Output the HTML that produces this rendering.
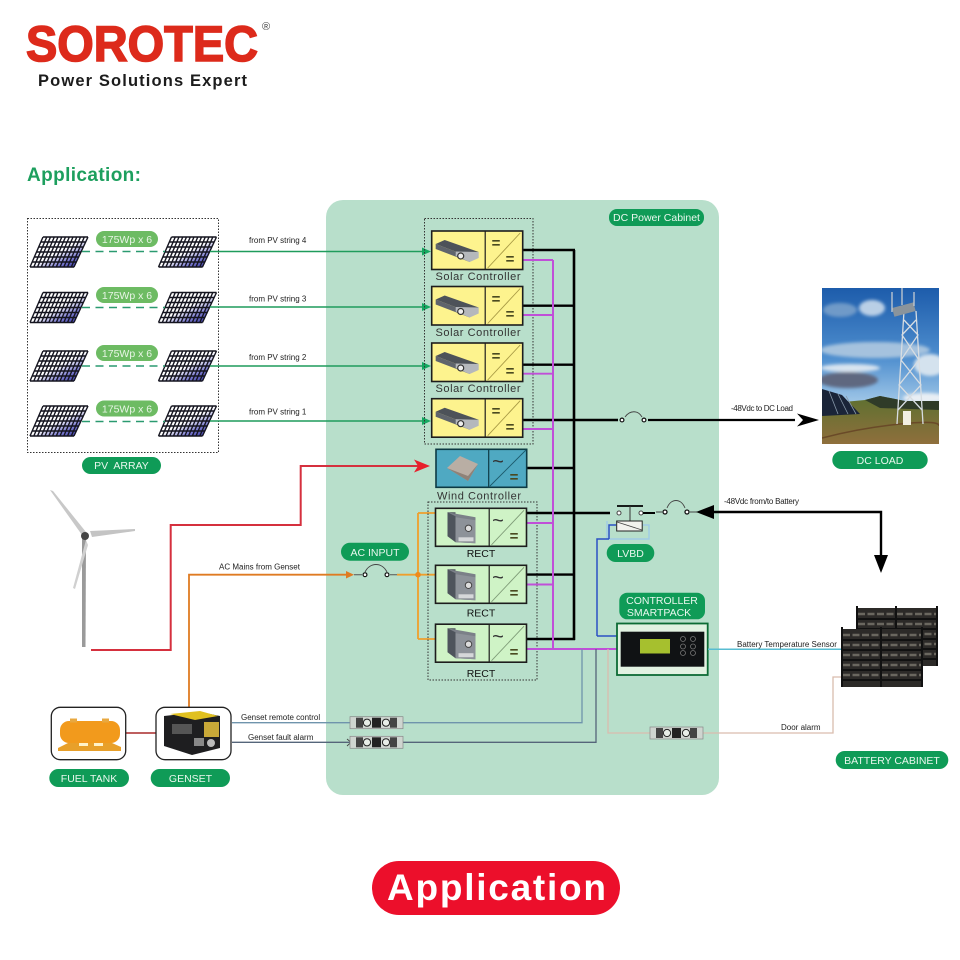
<!DOCTYPE html>
<html>
<head>
<meta charset="utf-8">
<title>Application</title>
<style>
html,body{margin:0;padding:0;background:#fff}
svg{display:block}
text{font-family:"Liberation Sans",sans-serif}
.lb{font-size:8px;fill:#222}
.p{font-size:10.5px;fill:#e9f7ee;text-anchor:middle}
.w{font-size:10.5px;fill:#e8f5e6;text-anchor:middle}
.t{font-size:11px;fill:#333;text-anchor:middle}
.eq{font-size:15px;font-weight:bold;fill:#4a4a20;text-anchor:middle}
.ti{font-size:20px;fill:#333;text-anchor:middle}
</style>
</head>
<body>
<svg width="960" height="960" viewBox="0 0 960 960" xmlns="http://www.w3.org/2000/svg">
<defs>
<linearGradient id="pg" x1="0" y1="0" x2="1" y2="1"><stop offset=".5" stop-color="#fff"/><stop offset=".72" stop-color="#7a7ad0"/><stop offset="1" stop-color="#14148a"/></linearGradient>
<linearGradient id="sky" x1="0" y1="0" x2="0" y2="1"><stop offset="0" stop-color="#1d5cab"/><stop offset=".45" stop-color="#4f8fcf"/><stop offset=".72" stop-color="#9cc4e6"/></linearGradient>
<linearGradient id="gnd" x1="0" y1="0" x2="0" y2="1"><stop offset="0" stop-color="#5d7030"/><stop offset="1" stop-color="#8f6f3c"/></linearGradient>
<filter id="b1"><feGaussianBlur stdDeviation="1.6"/></filter>
<filter id="b0"><feGaussianBlur stdDeviation=".35"/></filter>
<clipPath id="ci"><rect x="822" y="288" width="117" height="156"/></clipPath>

<g id="panel">
<polygon points="13,0 58,0 44,30 0,30" fill="url(#pg)"/>
<path d="M13 0h45M10.8 5h45M8.7 10h45M6.5 15h45M4.3 20h45M2.2 25h44M0 30h44M13 0L0 30M16.8 0L3.8 30M20.5 0L7.5 30M24.3 0L11.3 30M28 0L15 30M31.8 0L18.8 30M35.5 0L22.5 30M39.3 0L26.3 30M43 0L30 30M46.8 0L33.8 30M50.5 0L37.5 30M54.3 0L41.3 30M58 0L44 30" fill="none" stroke="#14141f" stroke-width="1.4"/>
</g>

<g id="solar">
<rect x="0" y="0" width="91" height="38.5" fill="#fdf38e" stroke="#1d1d1d" stroke-width="1.6"/>
<line x1="53.5" y1="0" x2="53.5" y2="38.5" stroke="#1d1d1d" stroke-width="1.2"/>
<line x1="56" y1="37" x2="88.5" y2="2" stroke="#a89a45" stroke-width=".9"/>
<polygon points="4,13 13,9 47,21 38,26" fill="#4d5259"/>
<polygon points="4,13 38,26 38,31 4,18" fill="#5f646c"/>
<polygon points="24,20.5 47,21 47,27 38,31 24,25" fill="#b5b8bc"/>
<circle cx="29" cy="25" r="3" fill="#eee" stroke="#333" stroke-width="1.2"/>
</g>

<g id="rect">
<rect x="0" y="0" width="91" height="38" fill="#cff3c6" stroke="#1d1d1d" stroke-width="1.6"/>
<line x1="53.7" y1="0" x2="53.7" y2="38" stroke="#1d1d1d" stroke-width="1.2"/>
<line x1="56" y1="36.5" x2="88.5" y2="2" stroke="#7f9c78" stroke-width=".9"/>
<polygon points="12,4 20,4 20,34 12,28" fill="#4e545c"/>
<polygon points="12,4 40,9 40,35 20,34 20,8" fill="#7b8088"/>
<polygon points="20,9 40,12 40,35 20,34" fill="#8d9299"/>
<rect x="23" y="29" width="15" height="4" fill="#d6d8da"/>
<circle cx="33" cy="20" r="3.2" fill="#ddd" stroke="#444"/>
</g>

<g id="conn">
<rect x="0" y="0" width="53" height="12" fill="#cfd5d0" stroke="#888" stroke-width=".7"/>
<rect x="6" y="1" width="7" height="10" fill="#444"/><rect x="40" y="1" width="7" height="10" fill="#444"/>
<rect x="22" y="1" width="9" height="10" fill="#222"/>
<circle cx="17" cy="6" r="3.6" fill="#e8eee8" stroke="#222" stroke-width="1"/>
<circle cx="36" cy="6" r="3.6" fill="#e8eee8" stroke="#222" stroke-width="1"/>
</g>

<g id="rack">
<rect x="0" y="2" width="82" height="58" fill="#2c2a28"/>
<path d="M2 8h78M2 18h78M2 28h78M2 38h78M2 48h78" stroke="#6a675f" stroke-width="2.4" stroke-dasharray="7 2.5" fill="none"/>
<path d="M2 13h78M2 23h78M2 33h78M2 43h78M2 53h78" stroke="#111" stroke-width="2" fill="none"/>
<path d="M1 0V60M40 0V60M81 0V60" stroke="#111" stroke-width="2" fill="none"/>
</g>
</defs>

<rect width="960" height="960" fill="#fff"/>

<!-- Logo -->
<text x="26" y="61" font-size="50" font-weight="bold" fill="#dd2a1b" stroke="#dd2a1b" stroke-width="1.6" textLength="232" lengthAdjust="spacingAndGlyphs">SOROTEC</text>
<text x="262" y="30" font-size="11" fill="#444">®</text>
<text x="38" y="86" font-size="16.5" font-weight="bold" fill="#1c1c1c" textLength="209" lengthAdjust="spacing">Power Solutions Expert</text>
<text x="27" y="181" font-size="19" font-weight="bold" fill="#1d9f5e" textLength="114" lengthAdjust="spacing">Application:</text>

<!-- Cabinet -->
<rect x="326" y="200" width="393" height="595" rx="17" fill="#b8dfcb"/>
<rect x="609" y="209" width="95" height="17" rx="8" fill="#0f9b57"/>
<text x="656.5" y="221" class="p" font-size="10">DC Power Cabinet</text>

<!-- PV array -->
<rect x="27.5" y="218.5" width="191" height="234" fill="none" stroke="#333" stroke-width="1" stroke-dasharray="1.5 1.5"/>
<use href="#panel" x="30" y="237"/><use href="#panel" x="158.5" y="237"/>
<use href="#panel" x="30" y="292.5"/><use href="#panel" x="158.5" y="292.5"/>
<use href="#panel" x="30" y="351"/><use href="#panel" x="158.5" y="351"/>
<use href="#panel" x="30" y="406"/><use href="#panel" x="158.5" y="406"/>
<g stroke="#2a9a70" stroke-width="1.6" stroke-dasharray="8 5.5" fill="none">
<path d="M82 251.5H165M82 307.5H165M82 366H165M82 421.5H165"/>
</g>
<g stroke="#1f9c5c" stroke-width="1.6" fill="none">
<path d="M210 251.5H426M210 307H426M210 366H426M210 421H426"/>
</g>
<g fill="#14a860">
<polygon points="431,251.5 422,247.5 422,255.5"/>
<polygon points="431,307 422,303 422,311"/>
<polygon points="431,366 422,362 422,370"/>
<polygon points="431,421 422,417 422,425"/>
</g>
<g fill="#6dbb63">
<rect x="96" y="231" width="62" height="16" rx="8"/>
<rect x="96" y="287" width="62" height="16" rx="8"/>
<rect x="96" y="345" width="62" height="16" rx="8"/>
<rect x="96" y="400.5" width="62" height="16" rx="8"/>
</g>
<text x="127" y="243" class="w">175Wp x 6</text>
<text x="127" y="299" class="w">175Wp x 6</text>
<text x="127" y="357" class="w">175Wp x 6</text>
<text x="127" y="412.5" class="w">175Wp x 6</text>
<text x="249" y="243" class="lb">from PV string 4</text>
<text x="249" y="301.5" class="lb">from PV string 3</text>
<text x="249" y="360" class="lb">from PV string 2</text>
<text x="249" y="414.5" class="lb">from PV string 1</text>
<rect x="82" y="457" width="79" height="17" rx="8.5" fill="#0f9b57"/>
<text x="121.5" y="469" class="p">PV&#160; ARRAY</text>

<!-- Wind turbine -->
<g filter="url(#b0)">
<polygon points="82,538 86,538 85.5,647 82,647" fill="#9a9a9a"/>
<polygon points="50,490 53,491 86,532 82,535" fill="#c8c8c8"/>
<polygon points="90,531 135,529 135,531 92,537" fill="#c4c4c4"/>
<polygon points="86,540 88,545 75,589 73,588" fill="#d0d0d0"/>
<circle cx="85" cy="536" r="4" fill="#444"/>
</g>
<path d="M91 650H170.7V525H300.7V466H422" fill="none" stroke="#d5303e" stroke-width="2"/>
<polygon points="430,466 414,459.5 418,466 414,472.5" fill="#e8202c"/>

<!-- AC path -->
<path d="M189 707V574.7H348" fill="none" stroke="#df7b22" stroke-width="1.8"/>
<polygon points="354,574.7 346,571 346,578.5" fill="#df7b22"/>
<rect x="341" y="542.7" width="68" height="18" rx="9" fill="#0f9b57"/>
<text x="375" y="556" class="p" font-size="11">AC INPUT</text>
<text x="219" y="569.5" class="lb">AC Mains from Genset</text>
<path d="M354 574.7H362M390 574.7H397" stroke="#555" stroke-width="1" fill="none"/>
<path d="M397 574.7H435M418 513V639M418 513H435M418 639H435" fill="none" stroke="#ef9f2c" stroke-width="1.8"/>
<circle cx="418" cy="574.7" r="2.8" fill="#ef8a1c"/>
<path d="M365 572C370 562 382 562 387 572" fill="none" stroke="#444" stroke-width=".9"/>
<circle cx="365" cy="574.7" r="1.9" fill="#fff" stroke="#111" stroke-width="1.2"/>
<circle cx="387" cy="574.7" r="1.9" fill="#fff" stroke="#111" stroke-width="1.2"/>

<!-- Dotted groups -->
<rect x="424.5" y="218.5" width="108.5" height="225.5" fill="none" stroke="#333" stroke-width="1" stroke-dasharray="1.5 1.5"/>
<rect x="428" y="502" width="109" height="178" fill="none" stroke="#333" stroke-width="1" stroke-dasharray="1.5 1.5"/>

<!-- Black bus -->
<path d="M574 250V640" fill="none" stroke="#000" stroke-width="2.6"/>
<path d="M522 250H575M522 305.7H575M522 364.7H575M522 420H618M526 468H575M526 513H610M526 574.6H575M526 639H575" fill="none" stroke="#000" stroke-width="2.4"/>
<path d="M648 420H795" fill="none" stroke="#000" stroke-width="2.2"/>
<polygon points="819,420 797,413.5 803,420 797,426.5" fill="#000"/>

<!-- Magenta bus -->
<path d="M553 260V649" fill="none" stroke="#c04fd8" stroke-width="2"/>
<path d="M522 260H553M522 315H553M522 373.7H553M522 429H553M526 523H553M526 584.5H553M526 649H617" fill="none" stroke="#c04fd8" stroke-width="1.9"/>

<!-- Solar controllers -->
<use href="#solar" x="431.7" y="231"/>
<use href="#solar" x="431.7" y="286.5"/>
<use href="#solar" x="431.7" y="343"/>
<use href="#solar" x="431.7" y="398.7"/>
<text x="496" y="248" class="eq">=</text><text x="510" y="264" class="eq">=</text>
<text x="496" y="304" class="eq">=</text><text x="510" y="319" class="eq">=</text>
<text x="496" y="361" class="eq">=</text><text x="510" y="376" class="eq">=</text>
<text x="496" y="416" class="eq">=</text><text x="510" y="432" class="eq">=</text>
<text x="478" y="280" class="t" textLength="85" lengthAdjust="spacing">Solar Controller</text>
<text x="478" y="336" class="t" textLength="85" lengthAdjust="spacing">Solar Controller</text>
<text x="478" y="392" class="t" textLength="85" lengthAdjust="spacing">Solar Controller</text>

<!-- Wind controller -->
<rect x="436" y="449.3" width="90.7" height="38" fill="#4fa9c2" stroke="#0d3a44" stroke-width="1.6"/>
<line x1="488.7" y1="449.3" x2="488.7" y2="487.3" stroke="#0d3a44" stroke-width="1.2"/>
<line x1="490" y1="486" x2="526" y2="450" stroke="#1c5a6c" stroke-width=".9"/>
<polygon points="447,468 460,456 478,464 468,481" fill="#b9aea4"/>
<polygon points="447,468 468,476 478,464 468,481" fill="#8f8278"/>
<text x="498" y="468" class="ti">~</text>
<text x="514" y="482" class="eq">=</text>
<text x="479" y="499.5" class="t" textLength="84" lengthAdjust="spacing">Wind Controller</text>

<!-- Rects -->
<use href="#rect" x="435.5" y="508.3"/>
<use href="#rect" x="435.5" y="565.3"/>
<use href="#rect" x="435.5" y="624.2"/>
<text x="498" y="527" class="ti">~</text><text x="514" y="541" class="eq">=</text>
<text x="498" y="584" class="ti">~</text><text x="514" y="598" class="eq">=</text>
<text x="498" y="643" class="ti">~</text><text x="514" y="657" class="eq">=</text>
<text x="481" y="557" font-size="10.5" fill="#111" text-anchor="middle">RECT</text>
<text x="481" y="616.5" font-size="10.5" fill="#111" text-anchor="middle">RECT</text>
<text x="481" y="677" font-size="10.5" fill="#111" text-anchor="middle">RECT</text>

<!-- DC switch -->
<path d="M625 417C630 410 638 410 642 417" fill="none" stroke="#444" stroke-width=".9"/>
<circle cx="622" cy="420" r="1.9" fill="#fff" stroke="#111" stroke-width="1.2"/>
<circle cx="644" cy="420" r="1.9" fill="#fff" stroke="#111" stroke-width="1.2"/>
<text x="731" y="411" class="lb" font-size="7" textLength="62">-48Vdc to DC Load</text>

<!-- LVBD -->
<path d="M617 506H643" stroke="#000" stroke-width="1.8" fill="none"/>
<path d="M630 506V521" stroke="#333" stroke-width="1" fill="none"/>
<circle cx="619" cy="513" r="2" fill="#fff" stroke="#444"/>
<circle cx="641" cy="513" r="2" fill="#fff" stroke="#444"/>
<path d="M643 513H655" stroke="#000" stroke-width="2" fill="none"/>
<rect x="616.7" y="521" width="25.5" height="10" fill="#f2f2ee" stroke="#222" stroke-width="1"/>
<line x1="617" y1="522" x2="642" y2="530" stroke="#444" stroke-width=".8"/>
<path d="M607 521V539H649V525H643" fill="none" stroke="#9fcbe6" stroke-width="1.4"/>
<path d="M616 525H609V539M597 636V539H609" fill="none" stroke="#2a50c4" stroke-width="1.5"/>
<path d="M597 636H617" fill="none" stroke="#2a50c4" stroke-width="1.5"/>
<path d="M656 512H662M690 512H698" stroke="#444" stroke-width="1" fill="none"/>
<path d="M667 508C671 498 681 498 685 508" fill="none" stroke="#444" stroke-width=".9"/>
<circle cx="665" cy="512" r="2" fill="#fff" stroke="#111" stroke-width="1.3"/>
<circle cx="687" cy="512" r="2" fill="#fff" stroke="#111" stroke-width="1.3"/>
<rect x="606.7" y="544" width="47.6" height="18" rx="9" fill="#0f9b57"/>
<text x="630.5" y="557" class="p">LVBD</text>

<!-- Battery feed -->
<path d="M712 512H881V562" fill="none" stroke="#000" stroke-width="2.4"/>
<polygon points="696,512 714,505 714,519" fill="#000"/>
<polygon points="881,573 874,555 888,555" fill="#000"/>
<text x="724" y="504" class="lb" font-size="7" textLength="75">-48Vdc from/to Battery</text>

<!-- Controller -->
<rect x="619.3" y="592.7" width="85.7" height="26.6" rx="8" fill="#0f9b57"/>
<text x="662" y="604" class="p" font-size="11">CONTROLLER</text>
<text x="659" y="616" class="p" font-size="11">SMARTPACK</text>
<rect x="617" y="623.5" width="90.7" height="51.5" fill="#e2f2e2" stroke="#0d6b35" stroke-width="1.8"/>
<rect x="620.7" y="631.7" width="83.6" height="35" fill="#101214"/>
<rect x="640" y="639" width="30" height="14.5" fill="#a6c02e"/>
<g fill="none" stroke="#777" stroke-width=".8">
<circle cx="683" cy="639" r="2.5"/><circle cx="693" cy="639" r="2.5"/>
<circle cx="683" cy="646.5" r="2.5"/><circle cx="693" cy="646.5" r="2.5"/>
<circle cx="683" cy="653" r="2.5"/><circle cx="693" cy="653" r="2.5"/>
</g>

<!-- Signal lines -->
<path d="M232 722.7H582V649" fill="none" stroke="#6f94ac" stroke-width="1.3"/>
<path d="M232 742.3H350M403 742.3H596V649" fill="none" stroke="#55657a" stroke-width="1.3"/>
<path d="M608 649V733H650M703 733H833V677H842" fill="none" stroke="#d9bcae" stroke-width="1.3"/>
<path d="M708 649.3H842" fill="none" stroke="#58bdd2" stroke-width="1.5"/>
<path d="M347 739L351 742.3L347 746" fill="none" stroke="#444" stroke-width=".9"/>
<use href="#conn" x="350" y="716.7"/>
<use href="#conn" x="350" y="736.3"/>
<use href="#conn" x="650" y="727"/>
<text x="241" y="720" class="lb">Genset remote control</text>
<text x="248" y="740" class="lb">Genset fault alarm</text>
<text x="737" y="647" class="lb">Battery Temperature Sensor</text>
<text x="781" y="730" class="lb">Door alarm</text>

<!-- Fuel tank + genset -->
<line x1="125" y1="733" x2="156" y2="733" stroke="#a92a2a" stroke-width="1.6"/>
<rect x="51.3" y="707.3" width="74.4" height="52.4" rx="9" fill="#fff" stroke="#222" stroke-width="1.3"/>
<rect x="60" y="721" width="60" height="22" rx="9" fill="#f29a1c"/>
<rect x="70" y="718.5" width="7" height="4" fill="#e8a840"/><rect x="102" y="718.5" width="7" height="4" fill="#e8a840"/>
<polygon points="68,743 112,743 121,747 121,751 58,751 58,748" fill="#e8a02a"/>
<rect x="79" y="743" width="9" height="3" fill="#fff2c8"/><rect x="94" y="743" width="9" height="3" fill="#fff2c8"/>
<rect x="156" y="707.3" width="75" height="52.4" rx="9" fill="#fff" stroke="#222" stroke-width="1.3"/>
<polygon points="164,716 200,712 220,716 220,748 192,755 164,746" fill="#1e1e20"/>
<polygon points="170,714 200,711 218,716 195,720" fill="#e0c020"/>
<rect x="204" y="722" width="15" height="15" fill="#c8a838"/>
<rect x="172" y="724" width="20" height="10" fill="#555"/>
<rect x="194" y="738" width="10" height="8" fill="#888"/>
<circle cx="211" cy="743" r="4" fill="#bbb"/>
<rect x="49.3" y="769" width="79.7" height="18" rx="9" fill="#0f9b57"/>
<text x="89" y="782" class="p">FUEL TANK</text>
<rect x="150.7" y="769" width="79.3" height="18" rx="9" fill="#0f9b57"/>
<text x="190.5" y="782" class="p">GENSET</text>

<!-- DC load photo -->
<g clip-path="url(#ci)">
<rect x="822" y="288" width="117" height="156" fill="url(#sky)"/>
<g filter="url(#b1)">
<ellipse cx="872" cy="308" rx="13" ry="8" fill="#b9cfe6"/>
<ellipse cx="840" cy="310" rx="17" ry="7" fill="#6f9ac8"/>
<ellipse cx="875" cy="350" rx="55" ry="8" fill="#a5c2de"/>
<ellipse cx="850" cy="368" rx="30" ry="4" fill="#d8e4f0"/>
<ellipse cx="848" cy="380" rx="30" ry="8" fill="#5e6880"/>
<ellipse cx="930" cy="365" rx="16" ry="11" fill="#d4e2ee"/>
<ellipse cx="925" cy="398" rx="22" ry="5" fill="#e8eef4"/>
</g>
<polygon points="822,404 865,400 880,396 905,401 939,401 939,444 822,444" fill="url(#gnd)"/>
<polygon points="865,400 880,396 905,401 939,401 939,410 880,408" fill="#2f3b28"/>
<polygon points="822,389 842,395 860,414 822,416" fill="#1a2438"/>
<path d="M829 391L838 414M838 394L848 414M846 396L856 414" stroke="#8899aa" stroke-width=".8" fill="none"/>
<path d="M822 438Q860 428 900 424T939 426" stroke="#6a4a28" stroke-width="1.5" fill="none"/>
<path d="M904 311L897 424M916 311L923 424M904 320L918 335L901 360L921 385L898 410M916 320L902 335L919 360L899 385L922 410" stroke="#d7dde2" stroke-width="1.3" fill="none"/>
<rect x="893" y="305" width="22" height="9" fill="#8a949c" transform="rotate(-15 904 310)"/>
<path d="M892 292V312M902 288V305M914 292V306" stroke="#c5ccd2" stroke-width="1.3" fill="none"/>
<rect x="903" y="411" width="8" height="14" fill="#f2efe2"/>
</g>
<rect x="832.3" y="451" width="95.4" height="18" rx="9" fill="#0f9b57"/>
<text x="880" y="464" class="p">DC LOAD</text>

<!-- Battery cabinet -->
<use href="#rack" x="856" y="606"/>
<use href="#rack" x="841" y="627"/>
<rect x="835.7" y="751" width="112.6" height="18" rx="9" fill="#0f9b57"/>
<text x="892" y="764" class="p">BATTERY CABINET</text>

<!-- Bottom button -->
<rect x="372" y="861" width="248" height="54" rx="27" fill="#ec0f2b"/>
<text x="387" y="900" font-size="37" font-weight="bold" fill="#fff" textLength="219" lengthAdjust="spacing">Application</text>
</svg>
</body>
</html>
